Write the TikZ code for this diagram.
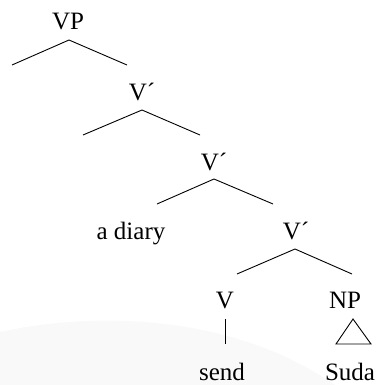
\documentclass[tikz,border=0pt]{standalone}
\usepackage{fontspec}
\setmainfont{Liberation Serif}
\begin{document}
\begin{tikzpicture}[x=1pt,y=-1pt,
  lbl/.style={anchor=base,inner sep=0pt,font=\fontsize{25}{30}\selectfont},
  branch/.style={line width=0.9pt,black},
  wm/.style={fill=black!2.5,draw=none}]
\useasboundingbox (0,0) rectangle (382,385);
% faint background watermark
\path[wm] (0,332) .. controls (90,312) and (230,312) .. (335,385) -- (0,385) -- cycle;
% labels
\node[lbl] (vp) at (68,30) {VP};
\node[lbl] (vb1) at (142,100) {V´};
\node[lbl] (vb2) at (214,170) {V´};
\node[lbl] (diary) at (131,239) {a diary};
\node[lbl] (vb3) at (296,239) {V´};
\node[lbl] (v) at (225,308) {V};
\node[lbl] (np) at (345,308) {NP};
\node[lbl] (send) at (222,380) {send};
\node[lbl] (suda) at (350,380) {Suda};
% branch points
\coordinate (vpA) at (69,40);
\coordinate (vpL) at (12,65);
\coordinate (vpR) at (127,65);
\coordinate (b1A) at (142,110);
\coordinate (b1L) at (83,135);
\coordinate (b1R) at (200,135);
\coordinate (b2A) at (214,179);
\coordinate (b2L) at (157,204);
\coordinate (b2R) at (273,204);
\coordinate (b3A) at (295,249);
\coordinate (b3L) at (237,274);
\coordinate (b3R) at (352,274);
\coordinate (vT) at (225,319);
\coordinate (vB) at (225,344);
\coordinate (tA) at (353,319);
\coordinate (tL) at (336,344);
\coordinate (tR) at (371,344);
% branches
\draw[branch] (vpL) -- (vpA) -- (vpR);
\draw[branch] (b1L) -- (b1A) -- (b1R);
\draw[branch] (b2L) -- (b2A) -- (b2R);
\draw[branch] (b3L) -- (b3A) -- (b3R);
\draw[branch] (vT) -- (vB);
\draw[branch,line join=miter] (tA) -- (tL) -- (tR) -- cycle;
\end{tikzpicture}
\end{document}
